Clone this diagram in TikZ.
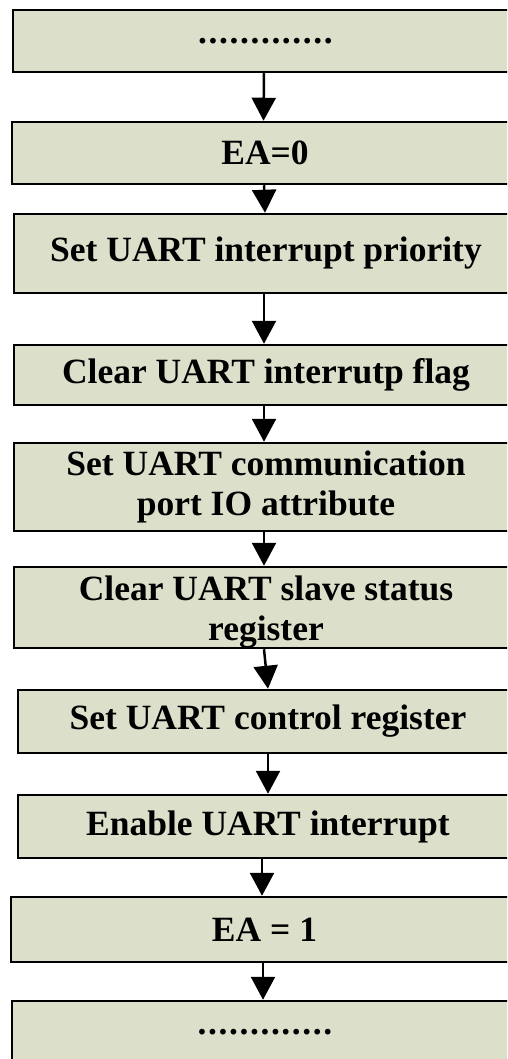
\documentclass[tikz,border=0pt]{standalone}
\usepackage{fontspec}
\setmainfont{Liberation Serif}
\usetikzlibrary{arrows.meta}
\definecolor{boxfill}{RGB}{220,224,203}
\newcommand\dk{\kern1.6pt}
\newcommand\dotrow{.\dk.\dk.\dk.\dk.\dk.\dk.\dk.\dk.\dk.\dk.\dk.\dk.}
\tikzset{
  flowbox/.style={draw=black, line width=2.5pt, fill=boxfill, rectangle, inner sep=0pt,
    font=\fontsize{35.5}{40}\selectfont\bfseries, align=center},
  arr/.style={line width=2.5pt, -{Triangle[width=24pt,length=23pt]}}
}
\begin{document}
\begin{tikzpicture}[x=1pt,y=-1pt]
\useasboundingbox (0,0) rectangle (507,1059);
\clip (0,0) rectangle (507,1059);
\node[flowbox, minimum width=505pt, minimum height=62pt] (b1) at (265.5,41) {\dotrow};
\node[flowbox, minimum width=506pt, minimum height=62pt] (b2) at (265,153) {EA=0};
\node[flowbox, minimum width=504pt, minimum height=79pt] (b3) at (266,253.5) {Set UART interrupt priority};
\node[flowbox, minimum width=504pt, minimum height=60pt] (b4) at (266,375) {Clear UART interrutp flag};
\node[flowbox, minimum width=504pt, minimum height=88pt] (b5) at (266,487) {Set UART communication\\port IO attribute};
\node[flowbox, minimum width=504pt, minimum height=81pt] (b6) at (266,607.5) {\rule{0pt}{33pt}Clear UART slave status\\register};
\node[flowbox, minimum width=500pt, minimum height=63pt] (b7) at (268,721.5) {Set UART control register};
\node[flowbox, minimum width=500pt, minimum height=63pt] (b8) at (268,826.5) {Enable UART interrupt};
\node[flowbox, minimum width=507pt, minimum height=65pt] (b9) at (264.5,929.5) {EA = 1};
\node[flowbox, minimum width=506pt, minimum height=62pt] (b10) at (265,1032) {\dotrow};
\draw[arr] ([xshift=-1.5pt]b1.south) -- ([xshift=-1.5pt]b2.north);
\draw[arr] ([xshift=-1pt]b2.south) -- ([xshift=-1pt]b3.north);
\draw[arr] ([xshift=-2pt]b3.south) -- ([xshift=-2pt]b4.north);
\draw[arr] ([xshift=-2pt]b4.south) -- ([xshift=-2pt]b5.north);
\draw[arr] ([xshift=-2pt]b5.south) -- ([xshift=-2pt]b6.north);
\draw[arr] ([xshift=-2pt]b6.south) -- (b7.north);
\draw[arr] (b7.south) -- (b8.north);
\draw[arr] ([xshift=-6pt]b8.south) -- ([xshift=-2.5pt]b9.north);
\draw[arr] ([xshift=-1.5pt]b9.south) -- ([xshift=-2pt]b10.north);
\end{tikzpicture}
\end{document}
